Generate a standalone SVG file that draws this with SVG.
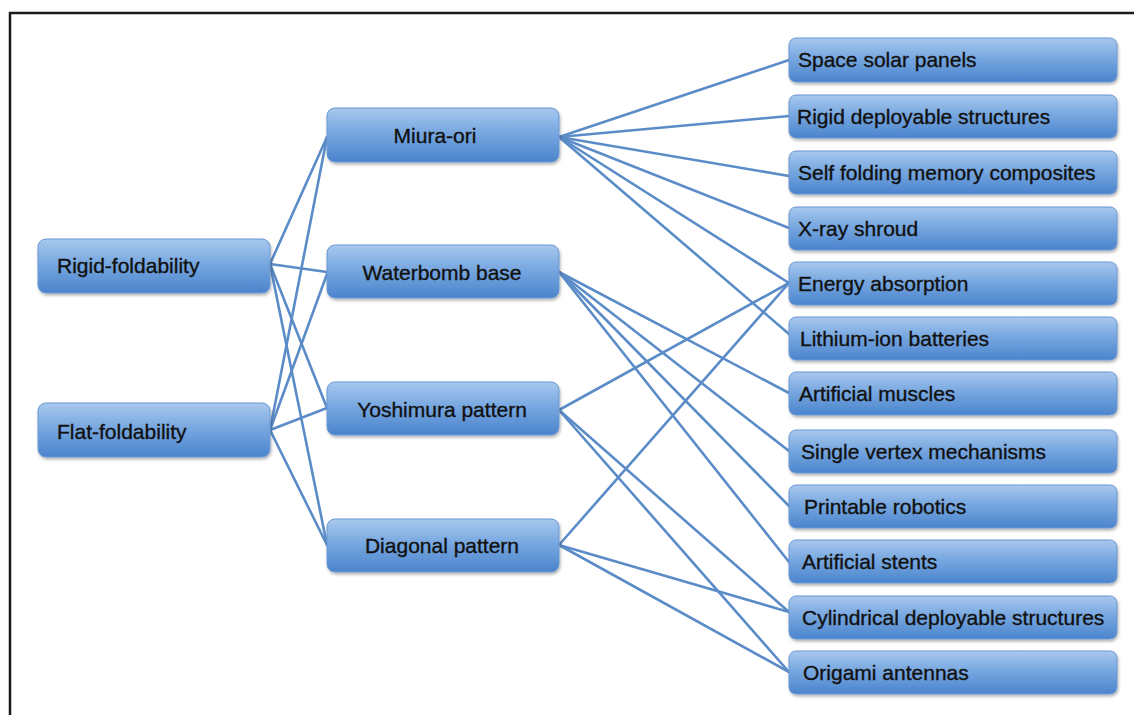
<svg xmlns="http://www.w3.org/2000/svg" width="1134" height="715" viewBox="0 0 1134 715">
<defs>
<linearGradient id="g" x1="0" y1="0" x2="0" y2="1">
<stop offset="0" stop-color="#a8c8ee"/>
<stop offset="0.45" stop-color="#78a8e0"/>
<stop offset="1" stop-color="#4b84cd"/>
</linearGradient>
<filter id="sh" x="-5%" y="-20%" width="110%" height="150%">
<feDropShadow dx="1" dy="2" stdDeviation="1.5" flood-color="#000" flood-opacity="0.3"/>
</filter>
<style>
.n rect{fill:url(#g);stroke:#6a98d2;stroke-width:1;filter:url(#sh)}
.n text{font-family:"Liberation Sans",Arial,sans-serif;font-size:21px;fill:#111;stroke:#111;stroke-width:0.35}
.c line{stroke:#5b8cc8;stroke-width:2.6;stroke-linecap:round}
.m text{text-anchor:middle}
</style>
</defs>
<rect x="0" y="0" width="1134" height="715" fill="#fff"/>
<path d="M10,715 V13 H1134" fill="none" stroke="#1a1a1a" stroke-width="2.5"/>
<g id="connectors" class="c">
<line x1="270" y1="264" x2="327" y2="137"/>
<line x1="270" y1="264" x2="327" y2="272"/>
<line x1="270" y1="264" x2="327" y2="408"/>
<line x1="270" y1="264" x2="327" y2="545"/>
<line x1="270" y1="430" x2="327" y2="137"/>
<line x1="270" y1="430" x2="327" y2="274"/>
<line x1="270" y1="430" x2="327" y2="408"/>
<line x1="270" y1="430" x2="327" y2="545"/>
<line x1="559" y1="137" x2="789" y2="60"/>
<line x1="559" y1="137" x2="789" y2="116"/>
<line x1="559" y1="137" x2="789" y2="176"/>
<line x1="559" y1="137" x2="789" y2="228"/>
<line x1="559" y1="137" x2="789" y2="283"/>
<line x1="559" y1="137" x2="789" y2="334"/>
<line x1="559" y1="272" x2="789" y2="393"/>
<line x1="559" y1="272" x2="789" y2="451"/>
<line x1="559" y1="272" x2="789" y2="506"/>
<line x1="559" y1="272" x2="789" y2="562"/>
<line x1="559" y1="410" x2="789" y2="283"/>
<line x1="559" y1="410" x2="789" y2="612"/>
<line x1="559" y1="410" x2="789" y2="672"/>
<line x1="559" y1="545" x2="789" y2="283"/>
<line x1="559" y1="545" x2="789" y2="612"/>
<line x1="559" y1="545" x2="789" y2="672"/>
</g>
<g id="rigid-foldability" class="n"><rect x="38" y="239" width="232" height="54" rx="8"/><text x="57" y="273">Rigid-foldability</text></g>
<g id="flat-foldability" class="n"><rect x="38" y="403" width="232" height="54" rx="8"/><text x="57" y="439">Flat-foldability</text></g>
<g id="miura-ori" class="n m"><rect x="327" y="108" width="232" height="54" rx="8"/><text x="435" y="143">Miura-ori</text></g>
<g id="waterbomb-base" class="n m"><rect x="327" y="245" width="232" height="53" rx="8"/><text x="442" y="280">Waterbomb base</text></g>
<g id="yoshimura-pattern" class="n m"><rect x="327" y="382" width="232" height="53" rx="8"/><text x="442" y="417">Yoshimura pattern</text></g>
<g id="diagonal-pattern" class="n m"><rect x="327" y="519" width="232" height="53" rx="8"/><text x="442" y="553">Diagonal pattern</text></g>
<g id="space-solar-panels" class="n"><rect x="789" y="38" width="328" height="44" rx="7"/><text x="798" y="67">Space solar panels</text></g>
<g id="rigid-deployable-structures" class="n"><rect x="789" y="95" width="328" height="43" rx="7"/><text x="797" y="124">Rigid deployable structures</text></g>
<g id="self-folding-memory-composites" class="n"><rect x="789" y="151" width="328" height="43" rx="7"/><text x="798" y="180">Self folding memory composites</text></g>
<g id="x-ray-shroud" class="n"><rect x="789" y="207" width="328" height="43" rx="7"/><text x="798" y="236">X-ray shroud</text></g>
<g id="energy-absorption" class="n"><rect x="789" y="262" width="328" height="43" rx="7"/><text x="798" y="291">Energy absorption</text></g>
<g id="lithium-ion-batteries" class="n"><rect x="789" y="317" width="328" height="43" rx="7"/><text x="800" y="346">Lithium-ion batteries</text></g>
<g id="artificial-muscles" class="n"><rect x="789" y="372" width="328" height="43" rx="7"/><text x="799" y="401">Artificial muscles</text></g>
<g id="single-vertex-mechanisms" class="n"><rect x="789" y="430" width="328" height="43" rx="7"/><text x="801" y="459">Single vertex mechanisms</text></g>
<g id="printable-robotics" class="n"><rect x="789" y="485" width="328" height="43" rx="7"/><text x="804" y="514">Printable robotics</text></g>
<g id="artificial-stents" class="n"><rect x="789" y="540" width="328" height="43" rx="7"/><text x="802" y="569">Artificial stents</text></g>
<g id="cylindrical-deployable-structures" class="n"><rect x="789" y="596" width="328" height="43" rx="7"/><text x="802" y="625">Cylindrical deployable structures</text></g>
<g id="origami-antennas" class="n"><rect x="789" y="651" width="328" height="43" rx="7"/><text x="803" y="680">Origami antennas</text></g>
</svg>
